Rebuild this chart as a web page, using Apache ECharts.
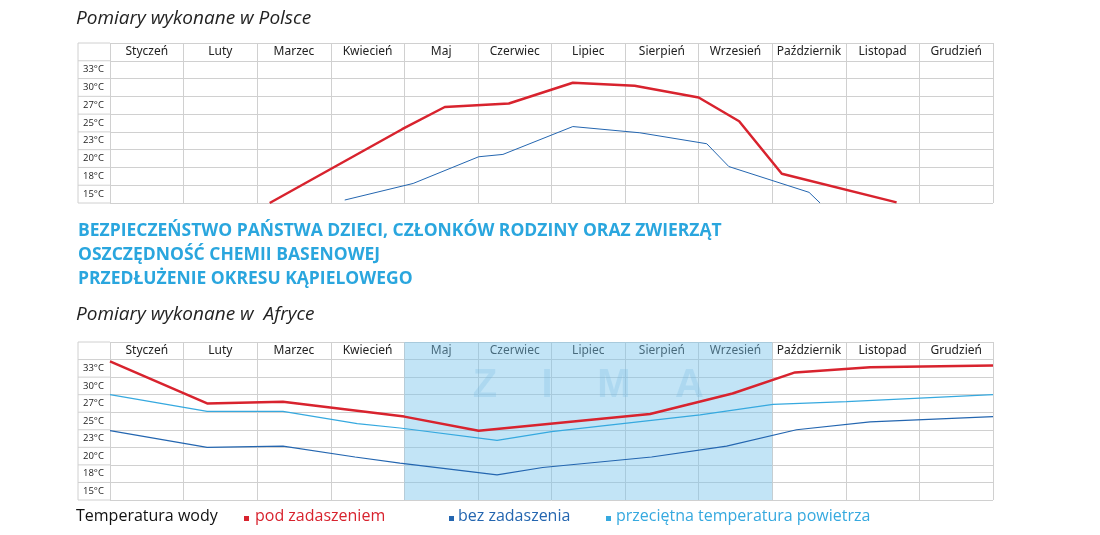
<!DOCTYPE html><html><head><meta charset="utf-8">
<script src="https://cdn.jsdelivr.net/npm/echarts@6/dist/echarts.min.js"></script>
<style>html,body{margin:0;background:#fff}#c{width:1100px;height:535px}</style></head><body><div id="c"></div>
<script>
const months=['Styczeń','Luty','Marzec','Kwiecień','Maj','Czerwiec','Lipiec','Sierpień','Wrzesień','Październik','Listopad','Grudzień'];
const tempTicks=[15,18,20,23,25,27,30,33];
// [month position, °C]
const plRed=[[2.17,13.5],[3.97,24.3],[4.55,26.8],[5.42,27.3],[6.29,30.8],[7.13,30.3],[8.0,28.3],[8.55,25.2],[9.13,18.3],[10.69,13.6]];
const plBlue=[[3.19,14.0],[4.12,16.8],[5.01,20.3],[5.34,20.7],[6.29,24.6],[7.2,23.9],[8.11,22.5],[8.41,19.1],[9.5,15.3],[9.65,13.5]];
const afRed=[[0,34.2],[1.32,27],[2.35,27.3],[4.0,25.5],[5.01,23.9],[7.34,25.8],[8.46,28.7],[9.31,32.3],[10.33,33.2],[12,33.5]];
const afAir=[[0,28.5],[1.32,26.1],[2.35,26.1],[3.36,24.7],[3.94,24.2],[5.26,22.7],[6.0,23.8],[8.02,25.7],[9.01,26.9],[10.01,27.3],[12,28.5]];
const afBlue=[[0,23.9],[1.32,21.5],[2.35,21.7],[3.33,19.9],[3.94,19.2],[5.26,17.8],[5.88,18.7],[7.36,19.9],[8.38,21.7],[9.33,24.0],[10.33,24.9],[12,25.5]];
function row(t){const n=tempTicks.length;
 if(t<=tempTicks[0])return 0.5-(tempTicks[0]-t)/3;
 if(t>=tempTicks[n-1])return n-0.5+(t-tempTicks[n-1])/3;
 for(let i=0;i<n-1;i++){if(t<=tempTicks[i+1]){return i+0.5+(t-tempTicks[i])/(tempTicks[i+1]-tempTicks[i]);}}}
const conv=a=>a.map(p=>[p[0],row(p[1])]);
const RED='#d8232e',BLUE='#2466b0',LIGHT='#36a9df',GL='#d0d0d0';
const ylabels=tempTicks.map(t=>t+'°C').concat(['']);
function axes(g){return{
 x:[{type:'value',gridIndex:g,min:0,max:12,interval:1,show:true,axisLabel:{show:false},axisTick:{show:false},axisLine:{show:false},splitLine:{lineStyle:{color:GL}}},
    {type:'category',gridIndex:g,position:'top',data:months,boundaryGap:true,axisTick:{show:false},axisLine:{show:false},axisLabel:{interval:0,inside:true,margin:3,color:'#222',fontSize:12,fontFamily:'Noto Sans',verticalAlign:'top'}}],
 y:[{type:'value',gridIndex:g,min:0,max:9,interval:1,axisLabel:{show:false},axisTick:{show:false},axisLine:{show:false},splitLine:{lineStyle:{color:GL}}},
    {type:'category',gridIndex:g,data:ylabels,boundaryGap:true,position:'left',axisTick:{show:false},axisLine:{show:false},axisLabel:{margin:27,align:'left',color:'#222',fontSize:9.5,fontFamily:'Open Sans'}}]};}
const a0=axes(0),a1=axes(1);
const chart=echarts.init(document.getElementById('c'));
function ln(g,data,color,w,extra){return Object.assign({type:'line',xAxisIndex:g*2,yAxisIndex:g*2,data:conv(data),symbol:'none',lineStyle:{color,width:w},silent:true},extra||{});}
chart.setOption({animation:false,
 grid:[{left:110,right:107,top:43,height:160},{left:110,right:107,top:342,height:158}],
 xAxis:a0.x.concat(a1.x),yAxis:a0.y.concat(a1.y),
 series:[ln(0,plRed,RED,2.5),ln(0,plBlue,BLUE,1),
  ln(1,afAir,LIGHT,1.2,{markArea:{silent:true,itemStyle:{color:'rgba(120,195,235,0.45)'},label:{show:true,position:'insideTop',distance:24,formatter:'Z    I    M    A',fontSize:40,fontWeight:'bold',color:'rgba(120,185,225,0.28)',fontFamily:'Arial'},data:[[{xAxis:4,yAxis:0},{xAxis:9,yAxis:9}]]}}),
  ln(1,afBlue,BLUE,1.2),ln(1,afRed,RED,2.5)],
 graphic:[
  {type:'text',left:76,top:9,style:{text:'Pomiary wykonane w Polsce',font:'italic 19px "Open Sans"',fill:'#222'}},
  {type:'text',left:76,top:305,style:{text:'Pomiary wykonane w  Afryce',font:'italic 19px "Open Sans"',fill:'#222'}},
  {type:'text',left:78,top:219,style:{text:'BEZPIECZEŃSTWO PAŃSTWA DZIECI, CZŁONKÓW RODZINY ORAZ ZWIERZĄT\nOSZCZĘDNOŚĆ CHEMII BASENOWEJ\nPRZEDŁUŻENIE OKRESU KĄPIELOWEGO',font:'bold 17.5px "Open Sans"',lineHeight:24,fill:'#2aa6de'}},
  {type:'text',left:76,top:508,style:{text:'Temperatura wody',font:'16px "Open Sans"',fill:'#111'}},
  {type:'rect',left:244,top:516,shape:{width:5,height:5},style:{fill:RED}},
  {type:'text',left:255,top:508,style:{text:'pod zadaszeniem',font:'16px "Open Sans"',fill:RED}},
  {type:'rect',left:449,top:516,shape:{width:5,height:5},style:{fill:BLUE}},
  {type:'text',left:458,top:508,style:{text:'bez zadaszenia',font:'16px "Open Sans"',fill:BLUE}},
  {type:'rect',left:606,top:516,shape:{width:5,height:5},style:{fill:LIGHT}},
  {type:'text',left:616,top:508,style:{text:'przeciętna temperatura powietrza',font:'16px "Open Sans"',fill:LIGHT}}
 ]});
const extra=[];
[0,1].forEach(g=>{for(let r=0;r<=9;r++){const p=chart.convertToPixel({xAxisIndex:g*2,yAxisIndex:g*2},[0,r]);
 extra.push({type:'line',shape:{x1:78,y1:p[1],x2:110,y2:p[1]},style:{stroke:GL,lineWidth:1}});}
 const t=chart.convertToPixel({xAxisIndex:g*2,yAxisIndex:g*2},[0,9]),b=chart.convertToPixel({xAxisIndex:g*2,yAxisIndex:g*2},[0,0]);
 extra.push({type:'line',shape:{x1:78,y1:t[1],x2:78,y2:b[1]},style:{stroke:GL,lineWidth:1}});});
chart.setOption({graphic:extra.map((e,i)=>Object.assign({id:'ex'+i},e))});
</script></body></html>
